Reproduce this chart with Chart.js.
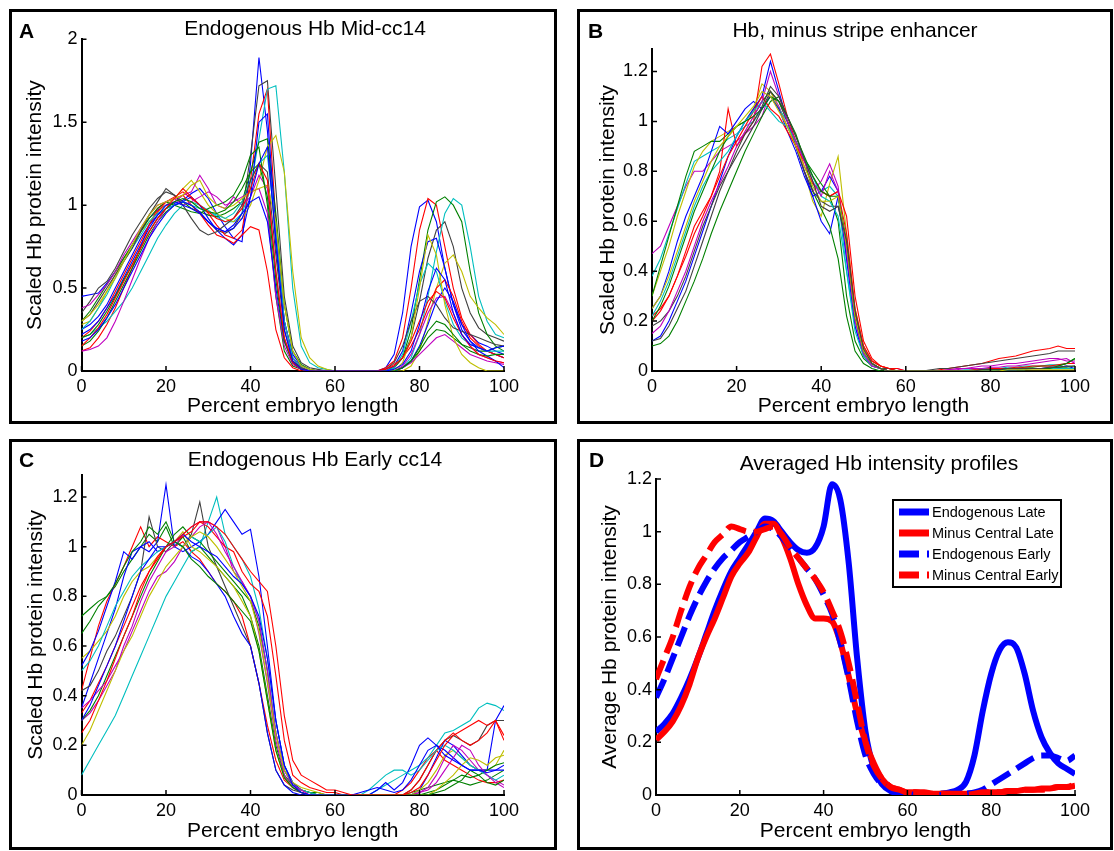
<!DOCTYPE html>
<html lang="en">
<head>
<meta charset="UTF-8">
<title>Hb intensity profiles</title>
<script src="https://cdn.jsdelivr.net/npm/chart.js@4.4.1/dist/chart.umd.min.js"></script>
<style>
  body { margin: 0; background: #fff; width: 1114px; height: 851px; overflow: hidden; position: relative; }
  .panel { position: absolute; border: 3px solid #000; box-sizing: border-box; }
  canvas { position: absolute; }
</style>
</head>
<body>
<div class="panel" style="left:9px;top:9px;width:548px;height:415px"></div>
<div class="panel" style="left:577px;top:9px;width:536px;height:415px"></div>
<div class="panel" style="left:9px;top:439px;width:548px;height:411px"></div>
<div class="panel" style="left:577px;top:439px;width:536px;height:411px"></div>
<canvas id="chartA" width="542" height="409" style="left:12px;top:12px"></canvas>
<canvas id="chartB" width="530" height="409" style="left:580px;top:12px"></canvas>
<canvas id="chartC" width="542" height="405" style="left:12px;top:442px"></canvas>
<canvas id="chartD" width="530" height="405" style="left:580px;top:442px"></canvas>
<script>
// percent embryo length, shared by every profile
const xPct = [0,2,4,6,8,10,12,14,16,18,20,22,24,26,28,30,32,34,36,38,40,42,44,46,48,50,52,54,56,58,60,62,64,66,68,70,72,74,76,78,80,82,84,86,88,90,92,94,96,98,100];
const xTicks = [0,20,40,60,80,100];
const yTicksA = [0,0.5,1,1.5,2];
const yTicksBCD = [0,0.2,0.4,0.6,0.8,1,1.2];

// A: Endogenous Hb Mid-cc14 (one profile per embryo)
const mid01 = [0.45,0.46,0.47,0.53,0.6, 0.68,0.76,0.85,0.92,0.97, 1.0,1.01,1.03,1.07,1.1, 1.04,0.95,0.87,0.8,0.78, 1.25,1.89,1.45,0.75,0.3, 0.1,0.03,0.01,0,0, 0,0,0,0,0, 0,0.02,0.1,0.35,0.75, 0.99,1.03,0.9,0.62,0.4, 0.28,0.22,0.17,0.15,0.12, 0.1];
const mid02 = [0.35,0.42,0.5,0.54,0.62, 0.72,0.82,0.9,0.98,1.04, 1.08,1.06,1.02,1.0,0.95, 0.9,0.85,0.83,0.86,0.95, 1.3,1.72,1.75,1.1,0.45, 0.15,0.05,0.02,0.01,0, 0,0,0,0,0, 0,0,0.02,0.08,0.2, 0.42,0.68,0.85,0.9,0.75, 0.5,0.35,0.26,0.22,0.2, 0.18];
const mid03 = [0.12,0.14,0.2,0.28,0.38, 0.5,0.62,0.75,0.88,0.98, 1.02,1.05,1.08,1.04,1.0, 0.95,0.88,0.82,0.8,0.85, 1.15,1.55,1.7,0.9,0.3, 0.08,0.02,0,0,0, 0,0,0,0,0, 0,0.02,0.06,0.2,0.5, 0.85,1.04,1.0,0.75,0.5, 0.32,0.22,0.16,0.12,0.1, 0.08];
const mid04 = [0.2,0.22,0.26,0.3,0.36, 0.42,0.5,0.6,0.7,0.8, 0.88,0.95,1.0,1.02,1.0, 0.97,0.93,0.9,0.9,0.95, 1.1,1.4,1.7,1.72,1.2, 0.5,0.15,0.05,0.02,0.01, 0,0,0,0,0, 0,0,0,0.02,0.08, 0.22,0.45,0.72,0.95,1.04, 1.0,0.75,0.45,0.3,0.22, 0.2];
const mid05 = [0.15,0.18,0.24,0.32,0.42, 0.52,0.62,0.72,0.82,0.9, 0.96,1.0,1.02,0.98,0.96, 0.94,0.93,0.95,0.98,1.02, 1.2,1.38,1.4,0.95,0.4, 0.12,0.04,0.01,0,0, 0,0,0,0,0, 0,0,0.02,0.08,0.25, 0.55,0.85,1.02,1.05,1.0, 0.9,0.6,0.35,0.22,0.15, 0.12];
const mid06 = [0.28,0.3,0.38,0.48,0.58, 0.68,0.76,0.84,0.9,0.96, 1.0,1.04,1.1,1.15,1.08, 1.0,0.95,0.92,0.9,0.92, 1.0,1.15,1.35,1.42,1.2, 0.6,0.2,0.08,0.03,0.01, 0,0,0,0,0, 0,0,0,0,0.03, 0.12,0.3,0.5,0.65,0.7, 0.6,0.45,0.38,0.32,0.28, 0.22];
const mid07 = [0.12,0.13,0.15,0.2,0.3, 0.42,0.55,0.68,0.8,0.9, 0.98,1.02,1.06,1.08,1.18, 1.1,1.0,0.98,1.05,1.0, 1.05,1.18,1.1,0.6,0.2, 0.06,0.02,0,0,0, 0,0,0,0,0, 0,0,0,0.02,0.05, 0.1,0.15,0.2,0.22,0.18, 0.14,0.1,0.08,0.06,0.05, 0.04];
const mid08 = [0.25,0.28,0.33,0.4,0.5, 0.6,0.7,0.8,0.88,0.94, 0.98,1.0,1.02,1.05,1.0, 0.92,0.85,0.8,0.76,0.82, 1.05,1.5,1.55,0.85,0.3, 0.08,0.02,0,0,0, 0,0,0,0,0, 0,0,0.03,0.12,0.35, 0.6,0.78,0.8,0.62,0.4, 0.25,0.18,0.14,0.12,0.1, 0.08];
const mid09 = [0.3,0.36,0.44,0.52,0.6, 0.68,0.76,0.84,0.92,0.98, 1.02,1.0,0.98,0.96,0.95, 0.98,1.0,1.02,1.06,1.15, 1.3,1.35,1.0,0.45,0.12, 0.03,0.01,0,0,0, 0,0,0,0,0, 0,0,0,0.02,0.06, 0.12,0.2,0.25,0.24,0.2, 0.16,0.14,0.12,0.12,0.14, 0.15];
const mid10 = [0.2,0.24,0.3,0.38,0.48, 0.58,0.68,0.78,0.88,0.96, 1.02,1.04,1.06,1.0,0.95, 0.88,0.82,0.8,0.77,0.82, 0.87,0.85,0.6,0.25,0.08, 0.02,0,0,0,0, 0,0,0,0,0, 0,0.01,0.04,0.08,0.15, 0.25,0.38,0.5,0.55,0.45, 0.3,0.2,0.15,0.12,0.1, 0.08];
const mid11 = [0.25,0.3,0.38,0.46,0.56, 0.66,0.74,0.82,0.9,0.95, 0.98,1.0,1.02,1.0,0.98, 0.96,0.94,0.92,0.95,1.02, 1.15,1.25,1.3,0.85,0.3, 0.08,0.02,0,0,0, 0,0,0,0,0, 0,0,0.02,0.1,0.3, 0.52,0.65,0.6,0.42,0.28, 0.2,0.16,0.14,0.12,0.12, 0.12];
const mid12 = [0.38,0.4,0.46,0.52,0.6, 0.7,0.78,0.86,0.94,1.0, 1.02,1.04,1.0,1.02,1.05, 1.08,1.05,1.0,1.02,1.05, 1.08,1.1,0.95,0.45,0.15, 0.04,0.01,0,0,0, 0,0,0,0,0, 0,0,0,0.03,0.1, 0.22,0.35,0.44,0.45,0.35, 0.22,0.15,0.1,0.08,0.06, 0.05];
const mid13 = [0.3,0.34,0.42,0.5,0.58, 0.66,0.74,0.84,0.94,1.02, 1.1,1.06,1.0,0.92,0.85, 0.82,0.84,0.88,0.92,1.0, 1.15,1.25,1.2,0.7,0.25, 0.06,0.02,0,0,0, 0,0,0,0,0, 0,0.01,0.05,0.15,0.3, 0.42,0.45,0.4,0.32,0.26, 0.24,0.22,0.2,0.18,0.16, 0.15];
const mid14 = [0.22,0.25,0.3,0.38,0.46, 0.56,0.66,0.76,0.86,0.94, 1.0,1.02,1.0,0.98,0.95, 0.9,0.86,0.84,0.88,0.95, 1.02,1.05,0.9,0.5,0.18, 0.05,0.01,0,0,0, 0,0,0,0,0, 0,0,0,0.02,0.06, 0.15,0.28,0.42,0.5,0.42, 0.28,0.18,0.12,0.09,0.06, 0.02];
const mid15 = [0.3,0.34,0.4,0.48,0.56, 0.66,0.76,0.86,0.94,1.0, 1.02,1.04,1.06,1.12,1.15, 1.05,1.0,0.98,1.0,1.04, 1.08,1.1,1.12,0.9,0.4, 0.12,0.03,0.01,0,0, 0,0,0,0,0, 0,0,0,0.05,0.2, 0.5,0.82,0.7,0.4,0.2, 0.1,0.05,0.02,0,0, 0];
const mid16 = [0.2,0.22,0.28,0.36,0.45, 0.55,0.64,0.74,0.84,0.92, 0.98,1.02,1.04,1.02,0.98, 0.96,0.95,0.97,1.02,1.1, 1.2,1.25,1.05,0.55,0.18, 0.05,0.01,0,0,0, 0,0,0,0,0, 0,0,0,0.02,0.06, 0.14,0.24,0.3,0.28,0.22, 0.16,0.12,0.1,0.09,0.1, 0.1];
const mid17 = [0.15,0.2,0.26,0.34,0.44, 0.54,0.64,0.74,0.84,0.92, 0.98,1.04,1.1,1.05,1.0, 0.96,0.92,0.9,0.92,0.98, 1.1,1.25,1.15,0.6,0.2, 0.05,0.01,0,0,0, 0,0,0,0,0, 0,0.01,0.03,0.08,0.18, 0.3,0.42,0.48,0.44,0.32, 0.22,0.15,0.1,0.08,0.06, 0.05];
const mid18 = [0.18,0.2,0.25,0.32,0.4, 0.5,0.6,0.7,0.8,0.88, 0.95,1.0,1.02,1.0,0.96, 0.9,0.86,0.84,0.86,0.92, 1.05,1.25,1.35,0.8,0.25, 0.06,0.01,0,0,0, 0,0,0,0,0, 0,0,0.01,0.04,0.12, 0.28,0.48,0.62,0.55,0.35, 0.22,0.16,0.14,0.12,0.14, 0.15];
const midColors = ['b','k','r','c','g','y','m','b','g','r','c','m','k','b','y','g','r','b'];

// B: Hb, minus stripe enhancer
const minus01 = [0.47,0.5,0.58,0.66,0.74, 0.8,0.8,0.84,0.88,0.9, 0.92,0.95,0.98,1.02,1.12, 1.06,0.98,0.9,0.8,0.72, 0.76,0.83,0.74,0.45,0.22, 0.1,0.04,0.02,0.01,0.01, 0,0,0,0,0, 0.005,0.01,0.01,0.015,0.02, 0.02,0.025,0.03,0.03,0.035, 0.04,0.045,0.05,0.05,0.04, 0.04];
const minus02 = [0.38,0.45,0.55,0.65,0.75, 0.84,0.86,0.88,0.9,0.93, 0.95,0.98,1.0,1.05,1.1, 1.05,1.0,0.92,0.85,0.78, 0.72,0.74,0.7,0.4,0.18, 0.07,0.03,0.01,0.01,0, 0,0,0,0,0, 0,0,0.005,0.005,0.01, 0.01,0.01,0.015,0.015,0.02, 0.02,0.02,0.025,0.025,0.03, 0.03];
const minus03 = [0.3,0.4,0.5,0.62,0.72, 0.82,0.88,0.92,0.94,0.96, 0.98,1.0,1.05,1.15,1.12, 1.05,0.98,0.9,0.8,0.68, 0.62,0.75,0.86,0.55,0.25, 0.1,0.04,0.02,0.01,0, 0,0,0,0,0, 0,0,0,0,0.005, 0.005,0.01,0.01,0.01,0.01, 0.01,0.01,0.01,0.01,0.01, 0.01];
const minus04 = [0.3,0.42,0.54,0.66,0.78, 0.88,0.9,0.92,0.92,0.95, 0.98,1.0,1.02,1.08,1.12, 1.08,1.0,0.92,0.85,0.8, 0.75,0.7,0.6,0.3,0.12, 0.05,0.02,0.01,0,0, 0,0,0,0,0, 0,0,0,0,0.005, 0.005,0.01,0.01,0.01,0.015, 0.015,0.02,0.02,0.02,0.03, 0.05];
const minus05 = [0.22,0.25,0.3,0.38,0.46, 0.55,0.62,0.7,0.8,1.05, 0.9,0.95,1.0,1.22,1.27, 1.15,1.02,0.92,0.82,0.75, 0.72,0.7,0.72,0.62,0.3, 0.12,0.05,0.02,0.01,0.01, 0,0,0,0,0.005, 0.01,0.015,0.02,0.025,0.03, 0.04,0.05,0.055,0.06,0.07, 0.08,0.085,0.09,0.1,0.09, 0.09];
const minus06 = [0.12,0.14,0.2,0.28,0.36, 0.46,0.56,0.66,0.76,0.86, 0.94,1.0,1.05,1.1,1.24, 1.12,1.0,0.9,0.8,0.7, 0.6,0.55,0.7,0.5,0.22, 0.08,0.03,0.01,0,0, 0,0,0,0,0, 0,0,0,0,0.005, 0.005,0.005,0.01,0.01,0.01, 0.01,0.01,0.015,0.015,0.02, 0.01];
const minus07 = [0.1,0.11,0.14,0.2,0.28, 0.36,0.45,0.55,0.64,0.72, 0.8,0.88,0.95,1.02,1.08, 1.1,1.02,0.95,0.85,0.72, 0.65,0.58,0.45,0.22,0.08, 0.03,0.01,0,0,0, 0,0,0,0,0, 0,0,0,0,0, 0.005,0.005,0.005,0.01,0.01, 0.01,0.01,0.01,0.015,0.015, 0.02];
const minus08 = [0.18,0.2,0.24,0.3,0.38, 0.48,0.58,0.66,0.74,0.8, 0.86,0.92,0.98,1.05,1.12, 1.08,1.0,0.9,0.8,0.72, 0.68,0.66,0.66,0.5,0.22, 0.08,0.03,0.01,0.01,0, 0,0,0,0.005,0.01, 0.01,0.015,0.02,0.025,0.03, 0.035,0.04,0.045,0.05,0.055, 0.06,0.065,0.07,0.08,0.08, 0.08];
const minus09 = [0.25,0.3,0.4,0.52,0.62, 0.7,0.78,0.88,0.98,0.95, 1.0,1.05,1.08,1.05,1.1, 1.05,0.96,0.88,0.78,0.7, 0.72,0.78,0.72,0.45,0.18, 0.06,0.02,0.01,0,0, 0,0,0,0,0, 0,0,0,0,0, 0.005,0.005,0.005,0.005,0.01, 0.01,0.01,0.01,0.01,0.01, 0.01];
const minus10 = [0.2,0.24,0.3,0.38,0.48, 0.58,0.64,0.7,0.78,0.86, 0.92,0.98,1.04,1.1,1.05, 1.02,0.96,0.9,0.84,0.78, 0.72,0.7,0.72,0.55,0.25, 0.1,0.04,0.02,0.01,0, 0,0,0,0,0, 0,0,0,0.005,0.005, 0.01,0.01,0.01,0.015,0.015, 0.02,0.02,0.02,0.025,0.03, 0.03];
const minus11 = [0.22,0.28,0.36,0.46,0.56, 0.66,0.74,0.8,0.84,0.88, 0.94,1.0,1.04,1.08,1.04, 1.0,0.98,0.92,0.85,0.78, 0.7,0.68,0.62,0.4,0.16, 0.06,0.02,0.01,0,0, 0,0,0,0,0, 0,0,0,0,0, 0,0.005,0.005,0.005,0.005, 0.01,0.01,0.01,0.01,0.01, 0.01];
const minus12 = [0.15,0.18,0.24,0.32,0.4, 0.5,0.6,0.68,0.75,0.82, 0.9,0.96,1.02,1.08,1.2, 1.1,1.0,0.92,0.84,0.76, 0.7,0.8,0.72,0.48,0.2, 0.07,0.02,0.01,0,0, 0,0,0,0,0, 0.005,0.005,0.01,0.01,0.01, 0.015,0.015,0.02,0.02,0.025, 0.03,0.035,0.04,0.045,0.05, 0.03];
const minus13 = [0.2,0.26,0.34,0.44,0.54, 0.64,0.72,0.8,0.88,0.94, 0.98,1.0,1.02,1.05,1.1, 1.08,1.02,0.94,0.86,0.78, 0.72,0.7,0.7,0.52,0.22, 0.08,0.03,0.01,0,0, 0,0,0,0,0, 0,0,0,0,0.005, 0.005,0.005,0.01,0.01,0.01, 0.01,0.01,0.01,0.02,0.03, 0.05];
const minus14 = [0.25,0.3,0.38,0.48,0.58, 0.68,0.76,0.84,0.9,0.94, 0.98,1.02,1.06,1.12,1.1, 1.04,0.98,0.9,0.82,0.74, 0.68,0.68,0.7,0.5,0.22, 0.08,0.03,0.01,0,0, 0,0,0,0,0, 0,0,0,0,0, 0,0,0.005,0.005,0.005, 0.005,0.005,0.005,0.005,0.005, 0.005];
const minus15 = [0.12,0.13,0.18,0.25,0.32, 0.42,0.52,0.62,0.72,0.8, 0.88,0.95,1.0,1.06,1.14, 1.1,1.02,0.94,0.85,0.76, 0.66,0.64,0.66,0.52,0.24, 0.09,0.03,0.01,0,0, 0,0,0,0,0, 0,0,0,0,0.005, 0.005,0.005,0.01,0.01,0.01, 0.01,0.01,0.015,0.015,0.02, 0.02];
const minusColors = ['m','c','y','g','r','b','g','k','b','r','c','m','g','y','k'];

// C: Endogenous Hb Early cc14
const early01 = [0.72,0.75,0.78,0.8,0.84, 0.9,0.95,1.0,1.05,1.02, 1.08,1.0,1.04,0.98,1.0, 0.96,0.92,0.88,0.84,0.8, 0.72,0.6,0.4,0.2,0.08, 0.04,0.02,0.01,0.01,0, 0,0,0,0,0, 0,0,0,0,0.01, 0.02,0.03,0.04,0.05,0.06, 0.05,0.04,0.05,0.06,0.08, 0.1];
const early02 = [0.42,0.55,0.68,0.78,0.85, 0.92,1.0,1.08,1.0,1.04, 1.02,1.0,1.02,0.98,0.95, 0.9,0.85,0.82,0.78,0.72, 0.6,0.45,0.28,0.14,0.06, 0.03,0.01,0,0,0, 0,0,0,0,0, 0,0,0,0.02,0.05, 0.1,0.15,0.18,0.14,0.12, 0.1,0.08,0.06,0.05,0.05, 0.06];
const early03 = [0.08,0.14,0.2,0.26,0.32, 0.4,0.48,0.56,0.64,0.72, 0.8,0.86,0.92,0.98,1.0, 1.1,1.2,1.05,1.0,0.95, 0.88,0.75,0.55,0.3,0.12, 0.05,0.02,0.01,0,0, 0,0,0,0,0, 0.02,0.04,0.06,0.08,0.1, 0.12,0.15,0.2,0.25,0.26, 0.28,0.3,0.35,0.37,0.36, 0.34];
const early04 = [0.35,0.45,0.55,0.65,0.75, 0.88,0.98,1.0,0.98,1.02, 1.25,1.0,0.98,1.0,1.02, 1.05,1.1,1.15,1.1,1.05, 1.07,0.88,0.6,0.3,0.12, 0.05,0.02,0.01,0,0, 0,0,0,0,0, 0,0,0,0,0, 0.02,0.08,0.15,0.22,0.2, 0.16,0.12,0.1,0.1,0.3, 0.36];
const early05 = [0.42,0.44,0.5,0.58,0.64, 0.72,0.8,0.9,1.12,1.0, 0.98,1.02,1.0,1.05,1.18, 1.0,0.92,0.84,0.76,0.68, 0.6,0.45,0.25,0.1,0.04, 0.02,0.01,0,0,0, 0,0,0,0,0, 0,0,0,0,0.02, 0.06,0.12,0.18,0.22,0.24, 0.22,0.2,0.22,0.28,0.3, 0.3];
const early06 = [0.3,0.33,0.38,0.44,0.5, 0.6,0.68,0.78,0.86,0.92, 0.98,1.0,1.05,1.08,1.1, 1.1,1.08,1.0,0.9,0.86, 0.8,0.65,0.45,0.22,0.08, 0.03,0.01,0,0,0, 0,0,0,0,0, 0,0,0,0,0, 0.01,0.03,0.08,0.15,0.2, 0.18,0.14,0.1,0.08,0.06, 0.04];
const early07 = [0.55,0.58,0.62,0.66,0.72, 0.8,0.86,0.9,0.92,0.96, 1.0,1.02,1.06,1.0,0.98, 0.95,0.92,0.88,0.84,0.78, 0.72,0.58,0.38,0.18,0.07, 0.03,0.02,0.01,0,0, 0,0,0,0,0, 0,0,0,0,0, 0.02,0.05,0.1,0.16,0.18, 0.15,0.12,0.1,0.1,0.12, 0.18];
const early08 = [0.52,0.58,0.66,0.76,0.86, 0.98,0.95,1.0,1.02,0.98, 1.0,1.02,1.0,0.96,0.94, 0.9,0.85,0.8,0.72,0.65, 0.6,0.45,0.25,0.1,0.04, 0.01,0,0,0,0, 0,0,0,0,0, 0.02,0.05,0.02,0.05,0.12, 0.2,0.23,0.2,0.18,0.15, 0.12,0.1,0.1,0.1,0.1, 0.1];
const early09 = [0.3,0.34,0.4,0.48,0.56, 0.64,0.72,0.8,0.88,0.94, 1.0,1.05,1.08,1.04,1.02, 0.98,0.94,0.9,0.86,0.82, 0.78,0.68,0.5,0.25,0.1, 0.04,0.02,0.01,0,0, 0,0,0,0,0, 0,0,0,0,0, 0,0.01,0.02,0.04,0.06, 0.08,0.07,0.08,0.1,0.12, 0.13];
const early10 = [0.33,0.38,0.45,0.52,0.6, 0.68,0.76,0.84,0.9,0.95, 1.0,1.02,1.04,1.06,1.1, 1.08,1.04,1.0,0.98,0.9, 0.85,0.82,0.72,0.48,0.22, 0.08,0.05,0.03,0.02,0.01, 0.01,0,0,0,0, 0,0,0,0,0.02, 0.06,0.12,0.18,0.22,0.25, 0.22,0.2,0.22,0.25,0.3, 0.22];
const early11 = [0.5,0.54,0.6,0.68,0.76, 0.82,0.88,0.92,0.95,0.98, 1.0,1.02,1.0,1.04,1.02, 1.05,1.08,1.02,0.92,0.85, 0.8,0.7,0.5,0.25,0.1, 0.04,0.02,0.01,0,0, 0,0,0,0,0.02, 0.05,0.08,0.1,0.1,0.08, 0.1,0.14,0.18,0.2,0.18, 0.15,0.12,0.1,0.08,0.06, 0.08];
const early12 = [0.35,0.38,0.42,0.46,0.52, 0.58,0.66,0.74,0.82,0.88, 0.9,0.94,1.0,1.04,1.08, 1.1,1.05,0.98,0.92,0.86, 0.8,0.7,0.5,0.25,0.1, 0.04,0.02,0,0,0, 0,0,0,0,0, 0,0,0,0,0, 0.01,0.02,0.05,0.1,0.15, 0.2,0.18,0.12,0.08,0.05, 0.03];
const early13 = [0.2,0.26,0.34,0.42,0.5, 0.58,0.64,0.72,0.8,0.86, 0.92,0.96,1.0,1.04,1.06, 1.04,1.0,0.95,0.9,0.84, 0.78,0.66,0.46,0.24,0.1, 0.05,0.03,0.02,0.01,0, 0,0,0,0,0, 0,0,0,0,0, 0,0,0.02,0.05,0.08, 0.12,0.15,0.14,0.12,0.15, 0.16];
const early14 = [0.65,0.7,0.76,0.8,0.85, 0.92,0.98,1.02,1.08,1.05, 1.1,1.02,1.0,0.95,0.92, 0.88,0.85,0.82,0.78,0.74, 0.7,0.58,0.38,0.18,0.07, 0.03,0.01,0,0,0, 0,0,0,0,0, 0,0,0,0,0, 0,0,0.01,0.02,0.04, 0.06,0.1,0.08,0.05,0.04, 0.06];
const early15 = [0.3,0.36,0.44,0.52,0.6, 0.7,0.8,0.9,0.95,1.0, 1.0,1.02,1.05,1.02,1.0, 0.98,0.96,0.92,0.88,0.85, 0.8,0.72,0.55,0.3,0.12, 0.04,0.01,0,0,0, 0,0,0,0.01,0.02, 0.03,0.02,0.01,0.02,0.06, 0.12,0.18,0.2,0.16,0.14, 0.12,0.1,0.1,0.09,0.1, 0.12];
const early16 = [0.25,0.3,0.38,0.46,0.55, 0.64,0.72,0.82,0.9,0.96, 1.0,1.02,1.05,1.08,1.1, 1.1,1.08,1.05,1.0,0.95, 0.9,0.86,0.82,0.6,0.32, 0.14,0.08,0.06,0.04,0.02, 0.02,0.01,0,0,0, 0,0,0,0,0.01, 0.03,0.08,0.14,0.2,0.24, 0.26,0.28,0.3,0.28,0.3, 0.24];
const earlyColors = ['g','r','c','b','k','m','y','b','g','r','c','m','y','g','b','r'];

// D: averaged profiles
const avgEndoLate = [0.24,0.27,0.31,0.37,0.44, 0.52,0.61,0.7,0.78,0.85, 0.9,0.95,1.0,1.05,1.04, 1.0,0.96,0.93,0.92,0.94, 1.02,1.18,1.12,0.88,0.52, 0.24,0.1,0.04,0.015,0.005, 0,0,0,0,0.005, 0.01,0.02,0.05,0.15,0.32, 0.46,0.55,0.58,0.56,0.46, 0.32,0.22,0.16,0.12,0.1, 0.08];
const avgMinusLate = [0.21,0.24,0.28,0.34,0.42, 0.52,0.6,0.67,0.75,0.83, 0.88,0.92,0.98,1.03,1.03, 0.98,0.9,0.8,0.72,0.67, 0.67,0.66,0.58,0.45,0.31, 0.2,0.12,0.06,0.03,0.02, 0.01,0.01,0.01,0.005,0.005, 0.005,0.005,0.005,0.005,0.01, 0.01,0.01,0.015,0.015,0.02, 0.02,0.025,0.025,0.03,0.03, 0.035];
const avgEndoEarly = [0.37,0.44,0.52,0.6,0.68, 0.75,0.81,0.86,0.9,0.93, 0.96,0.98,1.0,1.02,1.01, 0.98,0.94,0.9,0.86,0.82, 0.76,0.69,0.58,0.44,0.28, 0.15,0.08,0.04,0.02,0.01, 0.005,0,0,0,0, 0,0,0.005,0.01,0.02, 0.04,0.06,0.08,0.1,0.12, 0.14,0.15,0.15,0.14,0.13, 0.15];
const avgMinusEarly = [0.44,0.52,0.6,0.7,0.79, 0.86,0.91,0.96,0.99,1.02, 1.01,1.0,1.0,1.01,1.02, 0.99,0.94,0.9,0.86,0.82, 0.77,0.7,0.62,0.5,0.35, 0.2,0.11,0.06,0.03,0.02, 0.01,0.01,0.005,0.005,0.005, 0.005,0,0,0.005,0.01, 0.01,0.01,0.015,0.015,0.02, 0.02,0.02,0.025,0.03,0.03, 0.04];
const avgLabels = ['Endogenous Late', 'Minus Central Late', 'Endogenous Early', 'Minus Central Early'];
const avgColors = ['b','r','b','r'];
const avgDashed = [false, false, true, true];

const matlab = { b: '#0000ff', g: '#008000', r: '#ff0000', c: '#00bfbf', m: '#bf00bf', y: '#bfbf00', k: '#404040' };
const FONT = '"Liberation Sans", Arial, Helvetica, sans-serif';
Chart.defaults.font.family = FONT;
Chart.defaults.color = '#000';

function toPoints(vals) {
  return vals.map((v, i) => ({ x: xPct[i], y: v }));
}

// panel letter, title and the inward tick marks matlab draws
function panelDeco(cfg) {
  return {
    id: 'deco',
    afterDraw(chart) {
      const ctx = chart.ctx, a = chart.chartArea;
      const xs = chart.scales.x, ys = chart.scales.y;
      ctx.save();
      ctx.strokeStyle = '#000';
      ctx.lineWidth = 1.5;
      ctx.beginPath();
      xs.ticks.forEach(t => { const p = xs.getPixelForValue(t.value); ctx.moveTo(p, a.bottom); ctx.lineTo(p, a.bottom - 5); });
      ys.ticks.forEach(t => { const p = ys.getPixelForValue(t.value); ctx.moveTo(a.left, p); ctx.lineTo(a.left + 5, p); });
      ctx.stroke();
      ctx.fillStyle = '#000';
      ctx.textBaseline = 'alphabetic';
      ctx.textAlign = 'left';
      ctx.font = 'bold 21px ' + FONT;
      ctx.fillText(cfg.letter, cfg.lx, cfg.ly);
      ctx.textAlign = 'center';
      ctx.font = '21px ' + FONT;
      ctx.fillText(cfg.title, cfg.tx, cfg.ty);
      ctx.restore();
    }
  };
}

const boxLegend = {
  id: 'boxLegend',
  afterDraw(chart) {
    const ctx = chart.ctx;
    const L = 313, T = 58, W = 168, H = 87;
    ctx.save();
    ctx.fillStyle = '#fff';
    ctx.fillRect(L, T, W, H);
    ctx.strokeStyle = '#000';
    ctx.lineWidth = 2;
    ctx.strokeRect(L, T, W, H);
    ctx.font = '14.5px ' + FONT;
    ctx.textBaseline = 'middle';
    ctx.textAlign = 'left';
    chart.data.datasets.forEach((ds, i) => {
      const y = T + 12 + i * 21;
      ctx.strokeStyle = ds.borderColor;
      ctx.lineWidth = 7;
      ctx.setLineDash(ds.borderDash || []);
      ctx.beginPath();
      ctx.moveTo(L + 6, y);
      ctx.lineTo(L + 36, y);
      ctx.stroke();
      ctx.setLineDash([]);
      ctx.fillStyle = '#000';
      ctx.fillText(ds.label, L + 39, y + 1);
    });
    ctx.restore();
  }
};

function chartOptions(p) {
  return {
    responsive: false,
    animation: false,
    devicePixelRatio: 1,
    layout: { padding: { top: p.padTop, right: p.padRight, bottom: 0, left: 0 } },
    plugins: { legend: { display: false }, tooltip: { enabled: false }, title: { display: false } },
    scales: {
      x: {
        type: 'linear', min: 0, max: 100,
        afterBuildTicks: s => { s.ticks = xTicks.map(v => ({ value: v })); },
        afterFit: s => { s.height = p.xH; },
        ticks: { font: { size: 18 }, color: '#000', padding: 5, maxRotation: 0, autoSkip: false, callback: v => String(v) },
        grid: { display: false, drawTicks: false },
        border: { display: true, color: '#000', width: 2 },
        title: { display: true, text: 'Percent embryo length', font: { size: 21 }, color: '#000', padding: { top: 0, bottom: p.xTitlePad } }
      },
      y: {
        type: 'linear', min: 0, max: p.yMax,
        afterBuildTicks: s => { s.ticks = p.yTicks.map(v => ({ value: v })); },
        afterFit: s => { s.width = p.yW; },
        ticks: { font: { size: 18 }, color: '#000', padding: 4, callback: v => String(v) },
        grid: { display: false, drawTicks: false },
        border: { display: true, color: '#000', width: 2 },
        title: { display: true, text: p.yTitle, font: { size: 21 }, color: '#000', padding: { top: p.yTitlePad, bottom: 0 } }
      }
    }
  };
}

function profilePanel(id, series, colors, p) {
  const n = series.length;
  const datasets = series.map((vals, i) => ({
    data: toPoints(vals),
    borderColor: matlab[colors[i]],
    borderWidth: 1.1,
    pointRadius: 0,
    tension: 0,
    fill: false,
    order: n - i
  }));
  new Chart(document.getElementById(id), {
    type: 'line',
    data: { datasets },
    options: chartOptions(p),
    plugins: [panelDeco(p.deco)]
  });
}

profilePanel('chartA',
  [mid01, mid02, mid03, mid04, mid05, mid06, mid07, mid08, mid09, mid10, mid11, mid12, mid13, mid14, mid15, mid16, mid17, mid18],
  midColors,
  { padTop: 27.3, padRight: 50, xH: 50, yW: 69.5, yMax: 2, yTicks: yTicksA, xTitlePad: 2.4, yTitlePad: 10.4,
    yTitle: 'Scaled Hb protein intensity',
    deco: { letter: 'A', lx: 7, ly: 26, title: 'Endogenous Hb Mid-cc14', tx: 293, ty: 23 } });

profilePanel('chartB',
  [minus01, minus02, minus03, minus04, minus05, minus06, minus07, minus08, minus09, minus10, minus11, minus12, minus13, minus14, minus15],
  minusColors,
  { padTop: 37, padRight: 35, xH: 50, yW: 72, yMax: 1.29, yTicks: yTicksBCD, xTitlePad: 2.4, yTitlePad: 15.4,
    yTitle: 'Scaled Hb protein intensity',
    deco: { letter: 'B', lx: 8, ly: 26, title: 'Hb, minus stripe enhancer', tx: 275, ty: 25 } });

profilePanel('chartC',
  [early01, early02, early03, early04, early05, early06, early07, early08, early09, early10, early11, early12, early13, early14, early15, early16],
  earlyColors,
  { padTop: 32.7, padRight: 50, xH: 52, yW: 69.5, yMax: 1.29, yTicks: yTicksBCD, xTitlePad: 3.4, yTitlePad: 11.4,
    yTitle: 'Scaled Hb protein intensity',
    deco: { letter: 'C', lx: 7, ly: 25, title: 'Endogenous Hb Early cc14', tx: 303, ty: 24 } });

// averaged profiles with the boxed legend
const avgSeries = [avgEndoLate, avgMinusLate, avgEndoEarly, avgMinusEarly];
new Chart(document.getElementById('chartD'), {
  type: 'line',
  data: {
    datasets: avgSeries.map((vals, i) => ({
      label: avgLabels[i],
      data: toPoints(vals),
      borderColor: matlab[avgColors[i]],
      borderWidth: 6,
      borderDash: avgDashed[i] ? [20, 8] : [],
      borderCapStyle: 'butt',
      borderJoinStyle: 'round',
      pointRadius: 0,
      cubicInterpolationMode: 'monotone',
      fill: false,
      order: avgSeries.length - i
    }))
  },
  options: chartOptions({ padTop: 37, padRight: 35, xH: 52, yW: 76, yMax: 1.2, yTicks: yTicksBCD, xTitlePad: 3.4, yTitlePad: 17.4,
    yTitle: 'Average Hb protein intensity' }),
  plugins: [panelDeco({ letter: 'D', lx: 9, ly: 25, title: 'Averaged Hb intensity profiles', tx: 299, ty: 28 }), boxLegend]
});
</script>
</body>
</html>
